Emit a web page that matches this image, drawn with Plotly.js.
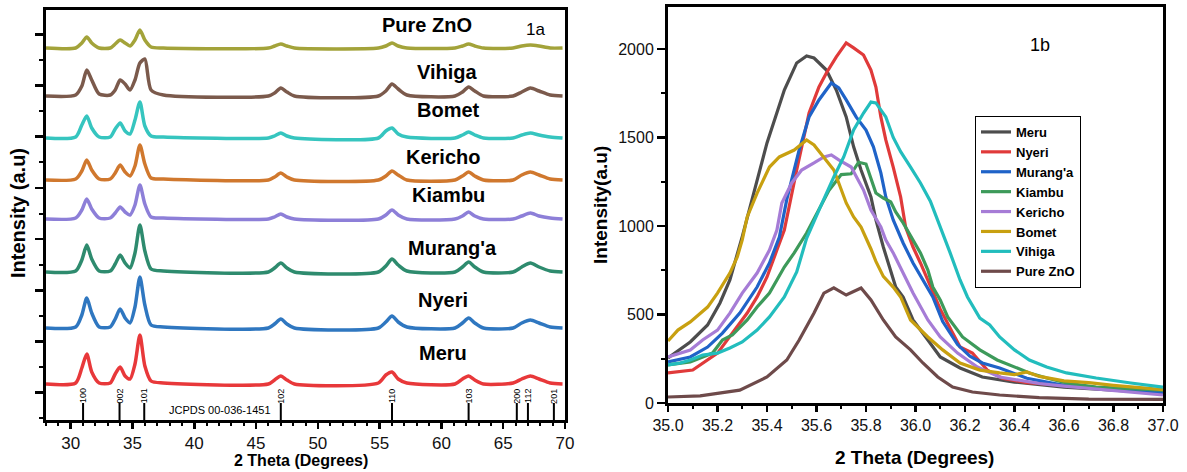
<!DOCTYPE html>
<html>
<head>
<meta charset="utf-8">
<script src="https://cdn.plot.ly/plotly-3.0.1.min.js"></script>
<style>html,body{margin:0;padding:0;background:#fff;}#chart{width:1187px;height:472px;}</style>
</head>
<body>
<div id="chart"></div>
<script>
// ---------- Panel 1a : stacked XRD patterns (offset intensity, a.u.) ----------
const xrdTheta = [28,30.4,30.9,31.3,31.7,32.3,33.2,33.6,34.0,34.4,34.8,35.2,35.6,36.0,36.5,37.5,46.0,46.5,47.0,47.5,48.1,54.9,55.5,56.0,56.5,57.2,61.1,61.7,62.2,62.7,63.4,65.8,66.5,67.2,67.9,68.8,69.8];
const xrdMeru    = [36,37,52,66,48,37,37,46,53,44,41,56,85,54,39,37,36,40,44,40,36,37,45,48,41,37,36,41,44,40,36,37,41,44,41,37,36];
const xrdNyeri   = [92,93,105,122,107,93,93,101,111,102,97,113,143,115,95,93,92,96,101,96,92,92,98,104,98,93,92,97,102,97,92,92,97,100,97,93,92];
const xrdMuranga = [148,149,160,175,161,149,149,156,165,157,152,167,195,169,151,149,148,152,157,152,148,148,154,161,155,149,148,153,158,153,148,148,153,157,153,149,148];
const xrdKiambu  = [201,202,210,221,211,202,202,207,213,208,205,215,235,216,203,202,201,203,206,203,201,201,205,210,205,201,201,204,208,204,201,201,204,207,204,202,201];
const xrdKericho = [240,241,249,260,250,241,241,247,255,248,244,254,275,256,242,241,240,243,247,243,240,240,244,249,245,240,240,244,248,244,240,240,245,248,245,241,240];
const xrdBomet   = [282,283,295,304,292,283,283,291,297,289,286,300,318,294,284,283,282,284,287,284,282,282,289,292,286,283,282,285,288,285,282,282,285,287,285,283,282];
const xrdVihiga  = [324,325,334,350,340,326,325,330,340,336,330,340,357,361,330,325,324,327,332,328,324,324,329,336,331,325,324,328,333,329,324,324,328,332,329,325,324];
const xrdPure    = [372,372,377,383,377,372,372,376,380,377,374,380,390,380,373,372,372,374,376,374,372,372,374,377,374,372,372,374,376,374,372,372,374,375,374,372,372];
const xrdNames   = ["Meru","Nyeri","Murang'a","Kiambu","Kericho","Bomet","Vihiga","Pure ZnO"];
const jcpdsPos   = [31.0,33.95,35.95,47.0,56.0,62.2,66.1,67.0,69.1];
const jcpdsHkl   = ["100","002","101","102","110","103","200","112","201"];

// ---------- Panel 1b : (101) peak region ----------
const meruX = [35.0,35.09,35.16,35.21,35.25,35.3,35.4,35.47,35.52,35.56,35.59,35.64,35.68,35.72,35.75,35.78,35.82,35.84,35.87,35.9,35.92,35.95,35.99,36.05,36.1,36.18,36.27,36.4,36.6,36.8,37.0];
const meruY = [254,345,441,565,695,940,1469,1768,1921,1960,1949,1881,1768,1616,1447,1316,1164,1034,881,751,655,599,469,356,260,198,147,118,90,73,56];
const nyeriX = [35.0,35.1,35.2,35.26,35.32,35.36,35.4,35.44,35.47,35.52,35.57,35.61,35.64,35.68,35.72,35.75,35.79,35.82,35.84,35.86,35.88,35.91,35.94,35.96,35.99,36.02,36.05,36.07,36.1,36.18,36.23,36.29,36.35,36.45,36.6,36.8,37.0];
const nyeriY = [170,186,282,395,508,599,712,864,977,1316,1638,1785,1864,1955,2034,2006,1966,1881,1785,1616,1486,1333,1164,994,881,791,695,621,530,316,282,186,140,115,100,80,60];
const murangaX = [35.0,35.09,35.16,35.22,35.29,35.36,35.41,35.45,35.48,35.53,35.57,35.61,35.66,35.69,35.72,35.76,35.8,35.83,35.86,35.88,35.91,35.95,35.99,36.03,36.07,36.11,36.17,36.22,36.27,36.34,36.45,36.6,36.8,37.0];
const murangaY = [232,260,316,395,508,655,791,938,1150,1430,1616,1712,1808,1780,1712,1616,1542,1447,1300,1164,1034,904,791,695,599,460,330,265,226,198,140,100,80,60];
const kiambuX = [35.0,35.09,35.18,35.22,35.26,35.32,35.36,35.41,35.47,35.51,35.56,35.61,35.65,35.7,35.74,35.77,35.8,35.84,35.87,35.9,35.92,35.95,35.99,36.02,36.05,36.07,36.1,36.13,36.19,36.26,36.33,36.4,36.46,36.53,36.61,36.73,37.0];
const kiambuY = [215,232,282,356,384,469,542,621,768,848,960,1090,1200,1290,1295,1360,1350,1186,1158,1136,1079,1017,921,848,751,655,582,486,373,300,243,203,170,141,113,90,73];
const korichoX = [35.0,35.09,35.14,35.2,35.25,35.3,35.36,35.41,35.44,35.46,35.5,35.54,35.59,35.63,35.66,35.69,35.74,35.76,35.79,35.82,35.86,35.88,35.91,35.95,35.99,36.05,36.1,36.17,36.25,36.34,36.5,36.6,36.8,37.0];
const korichoY = [260,299,356,412,508,621,734,864,977,1130,1243,1316,1356,1390,1401,1373,1333,1277,1203,1090,994,921,848,734,621,469,373,282,203,147,110,95,70,45];
const bometX = [35.0,35.04,35.09,35.16,35.2,35.25,35.28,35.3,35.32,35.36,35.41,35.45,35.51,35.56,35.59,35.63,35.67,35.69,35.72,35.75,35.78,35.82,35.84,35.87,35.91,35.94,35.98,36.05,36.11,36.18,36.26,36.34,36.4,36.45,36.5,36.6,36.7,36.8,37.0];
const bometY = [350,412,458,542,621,734,825,921,1051,1186,1333,1390,1429,1486,1458,1390,1316,1243,1130,1051,994,870,800,715,655,599,469,373,300,226,186,170,160,175,150,125,115,100,75];
const vihigaX = [35.0,35.05,35.09,35.14,35.2,35.25,35.3,35.36,35.41,35.47,35.52,35.56,35.61,35.67,35.71,35.75,35.79,35.82,35.84,35.88,35.91,35.94,35.98,36.02,36.06,36.1,36.14,36.18,36.21,36.26,36.3,36.34,36.4,36.46,36.53,36.61,36.73,36.87,37.0];
const vihigaY = [215,226,243,271,282,311,345,412,486,599,740,930,1090,1277,1390,1542,1638,1700,1695,1616,1500,1420,1333,1243,1140,1000,848,695,599,480,441,373,300,243,203,170,141,113,90];
const pureX = [35.0,35.13,35.29,35.4,35.48,35.53,35.59,35.63,35.67,35.72,35.78,35.82,35.87,35.92,35.98,36.03,36.09,36.15,36.23,36.34,36.5,36.7,37.0];
const pureY = [34,40,73,147,243,356,508,621,650,610,650,582,469,373,300,226,147,90,62,45,30,22,20];

const FONT = "Liberation Sans, Arial, sans-serif";

const xrdSeries = [xrdMeru,xrdNyeri,xrdMuranga,xrdKiambu,xrdKericho,xrdBomet,xrdVihiga,xrdPure];
const xrdColors = ["#e8383a","#2f77c0","#2e8b6e","#8d7fd8","#d0782e","#36c5bf","#7b5a4c","#a3a33a"];
const xrdLabelPos = [[60.15,67],[60.1,120],[60.9,172],[60.55,225],[60.1,263],[60.55,310],[60.5,348],[58.85,395]];

const traces = [];
xrdSeries.forEach((ys,i)=>{
  traces.push({x:xrdTheta,y:ys,type:'scatter',mode:'lines',xaxis:'x',yaxis:'y',
    line:{color:xrdColors[i],width:3.5,shape:'spline',smoothing:0.7},showlegend:false,hoverinfo:'skip'});
});

const bNames = ["Meru","Nyeri","Murang'a","Kiambu","Kericho","Bomet","Vihiga","Pure ZnO"];
const bX = [meruX,nyeriX,murangaX,kiambuX,korichoX,bometX,vihigaX,pureX];
const bY = [meruY,nyeriY,murangaY,kiambuY,korichoY,bometY,vihigaY,pureY];
const bColors = ["#4d4d4d","#e03a3a","#1f63c8","#3d9a5a","#a67cd6","#c8a010","#22bdbd","#6e4a4a"];
bNames.forEach((n,i)=>{
  traces.push({x:bX[i],y:bY[i],name:n,type:'scatter',mode:'lines',xaxis:'x2',yaxis:'y2',
    line:{color:bColors[i],width:3.2}});
});

const annotations = [];
xrdNames.forEach((n,i)=>{
  annotations.push({x:xrdLabelPos[i][0],y:xrdLabelPos[i][1],xref:'x',yref:'y',text:n,showarrow:false,
    xanchor:'center',yanchor:'middle',font:{family:FONT,size:20,weight:'bold',color:'#000'}});
});
annotations.push({x:67.6,y:390,xref:'x',yref:'y',text:'1a',showarrow:false,xanchor:'center',yanchor:'middle',
  font:{family:FONT,size:17,color:'#000'}});
jcpdsHkl.forEach((h,i)=>{
  annotations.push({x:jcpdsPos[i],y:24,xref:'x',yref:'y',text:h,textangle:-90,showarrow:false,
    xanchor:'center',yanchor:'middle',font:{family:FONT,size:9,color:'#000'}});
});
annotations.push({x:42.1,y:10,xref:'x',yref:'y',text:'JCPDS 00-036-1451',showarrow:false,
  xanchor:'center',yanchor:'middle',font:{family:FONT,size:11,color:'#000'}});
annotations.push({x:36.503,y:2023,xref:'x2',yref:'y2',text:'1b',showarrow:false,xanchor:'center',yanchor:'middle',
  font:{family:FONT,size:18,color:'#000'}});
// axis titles
annotations.push({x:18/1187,y:1-213/472,xref:'paper',yref:'paper',text:'Intensity (a.u)',textangle:-90,showarrow:false,
  xanchor:'center',yanchor:'middle',font:{family:FONT,size:20,weight:'bold',color:'#000'}});
annotations.push({x:301/1187,y:1-460/472,xref:'paper',yref:'paper',text:'2 Theta (Degrees)',showarrow:false,
  xanchor:'center',yanchor:'middle',font:{family:FONT,size:16,weight:'bold',color:'#000'}});
annotations.push({x:600/1187,y:1-205/472,xref:'paper',yref:'paper',text:'Intensity(a.u)',textangle:-90,showarrow:false,
  xanchor:'center',yanchor:'middle',font:{family:FONT,size:19,weight:'bold',color:'#000'}});
annotations.push({x:914/1187,y:1-457/472,xref:'paper',yref:'paper',text:'2 Theta (Degrees)',showarrow:false,
  xanchor:'center',yanchor:'middle',font:{family:FONT,size:19,weight:'bold',color:'#000'}});

const shapes = jcpdsPos.map(p=>({type:'line',xref:'x',yref:'y',x0:p,x1:p,y0:0,y1:17,line:{color:'#000',width:2}}));

const axCommon = {showline:true,linecolor:'#000',linewidth:3,mirror:true,showgrid:false,zeroline:false,
  ticks:'outside',tickcolor:'#000',tickwidth:2.5,fixedrange:true};

const layout = {
  width:1187,height:472,margin:{l:0,r:0,t:0,b:0},paper_bgcolor:'#fff',plot_bgcolor:'#fff',
  font:{family:FONT,color:'#000'},
  xaxis:Object.assign({},axCommon,{domain:[46/1187,565/1187],range:[28,70],anchor:'y',tick0:0,dtick:5,ticklen:6,
    tickfont:{family:FONT,size:17,color:'#111'},minor:{dtick:1,ticklen:3,tickwidth:2,tickcolor:'#000',ticks:'outside'}}),
  yaxis:Object.assign({},axCommon,{domain:[1-420/472,1-10/472],range:[0,410],anchor:'x',tick0:27.3,dtick:51.2,ticklen:8,
    showticklabels:false,minor:{tick0:27.3,dtick:25.6,ticklen:4,tickwidth:2,tickcolor:'#000',ticks:'outside'}}),
  xaxis2:Object.assign({},axCommon,{domain:[668/1187,1163/1187],range:[35,37],anchor:'y2',tick0:35,dtick:0.2,ticklen:6,
    tickformat:'.1f',tickfont:{family:FONT,size:16,color:'#111'},minor:{dtick:0.1,ticklen:3,tickwidth:2,tickcolor:'#000',ticks:'outside'}}),
  yaxis2:Object.assign({},axCommon,{domain:[1-403/472,1-7/472],range:[0,2237],anchor:'x2',tick0:0,dtick:500,ticklen:8,
    tickfont:{family:FONT,size:16,color:'#111'},minor:{dtick:250,ticklen:4,tickwidth:2,tickcolor:'#000',ticks:'outside'}}),
  showlegend:true,
  legend:{x:975/1187,y:1-116/472,xanchor:'left',yanchor:'top',bordercolor:'#000',borderwidth:1,bgcolor:'#fff',
    font:{family:FONT,size:13,weight:'bold',color:'#000'},tracegroupgap:0,itemwidth:30},
  annotations:annotations,shapes:shapes
};

Plotly.newPlot('chart',traces,layout,{staticPlot:true,displayModeBar:false});
</script>
</body>
</html>
